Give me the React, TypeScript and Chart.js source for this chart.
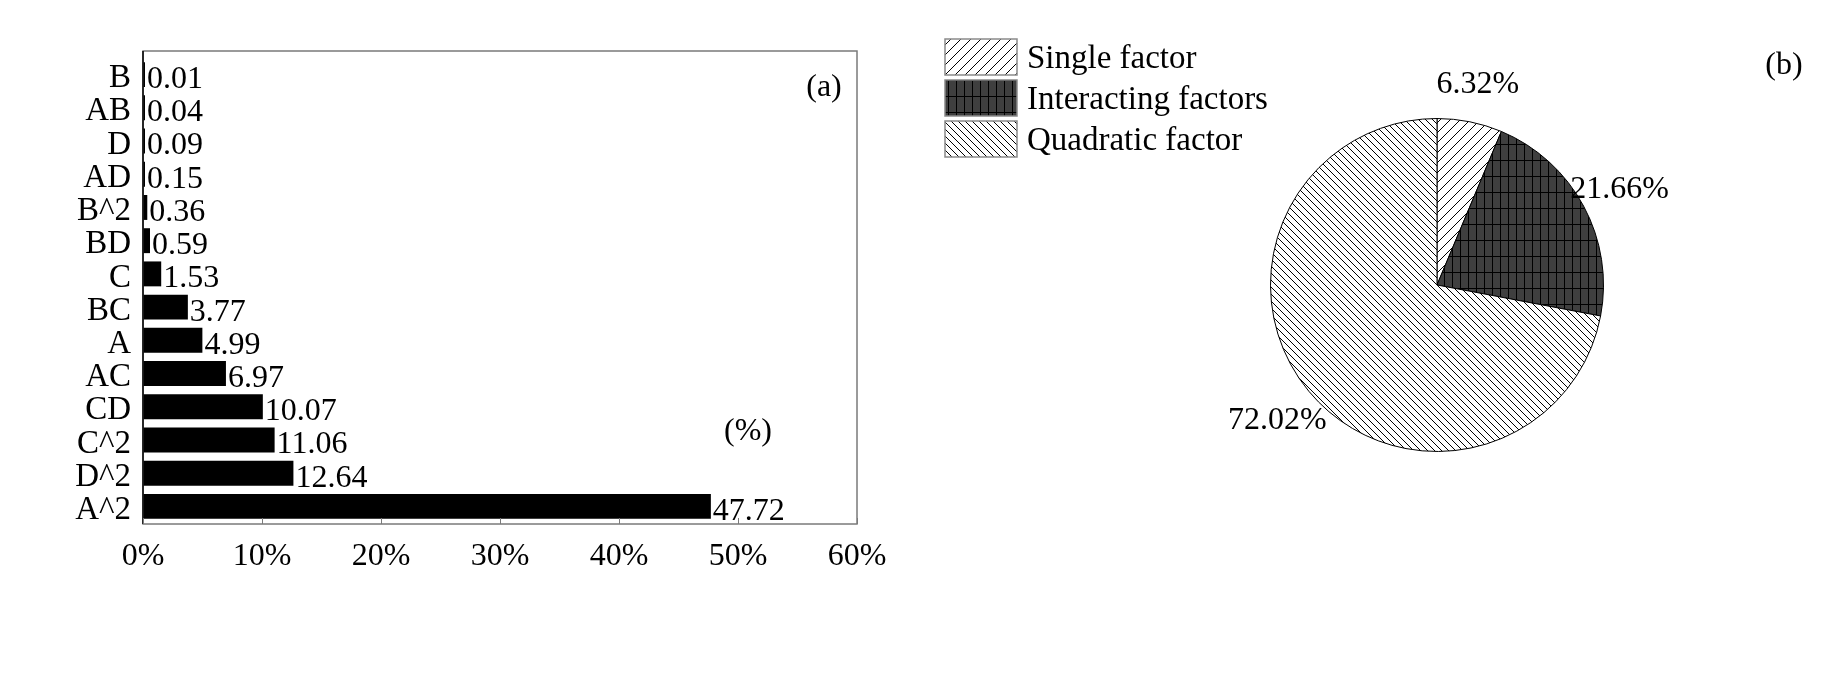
import React, { useEffect, useRef } from 'react';
import { Chart, registerables } from 'chart.js';

Chart.register(...registerables);

// ---------- data ----------
const barLabels = ['B', 'AB', 'D', 'AD', 'B^2', 'BD', 'C', 'BC', 'A', 'AC', 'CD', 'C^2', 'D^2', 'A^2'];
const barValues = [0.01, 0.04, 0.09, 0.15, 0.36, 0.59, 1.53, 3.77, 4.99, 6.97, 10.07, 11.06, 12.64, 47.72];
const xTickValues = [0, 10, 20, 30, 40, 50, 60];

const pieLabels = ['Single factor', 'Interacting factors', 'Quadratic factor'];
const pieValues = [6.32, 21.66, 72.02];
const pieValueLabels = ['6.32%', '21.66%', '72.02%'];

const FONT = '"Liberation Serif", "Times New Roman", serif';
const FS = 32;

// ---------- patterns ----------
function makePattern(kind: string): CanvasPattern | string {
  const c = document.createElement('canvas');
  const ctx = c.getContext('2d')!;
  if (kind === 'fwd') {
    const s = 10;
    c.width = s; c.height = s;
    ctx.fillStyle = '#fff'; ctx.fillRect(0, 0, s, s);
    ctx.strokeStyle = '#000'; ctx.lineWidth = 1;
    ctx.beginPath();
    ctx.moveTo(-1, s + 1); ctx.lineTo(s + 1, -1);
    ctx.moveTo(-1, 1); ctx.lineTo(1, -1);
    ctx.moveTo(s - 1, s + 1); ctx.lineTo(s + 1, s - 1);
    ctx.stroke();
  } else if (kind === 'back') {
    const s = 7;
    c.width = s; c.height = s;
    ctx.fillStyle = '#fff'; ctx.fillRect(0, 0, s, s);
    ctx.strokeStyle = '#000'; ctx.lineWidth = 1;
    ctx.beginPath();
    ctx.moveTo(-1, -1); ctx.lineTo(s + 1, s + 1);
    ctx.moveTo(s - 1, -1); ctx.lineTo(s + 1, 1);
    ctx.moveTo(-1, s - 1); ctx.lineTo(1, s + 1);
    ctx.stroke();
  } else {
    c.width = 8; c.height = 16;
    ctx.fillStyle = '#3f3f3f'; ctx.fillRect(0, 0, 8, 16);
    ctx.fillStyle = '#000';
    ctx.fillRect(0, 0, 1, 16);
    ctx.fillRect(0, 0, 8, 1);
  }
  return ctx.createPattern(c, 'repeat')!;
}

// ---------- bar chart plugins ----------
const barExtras = {
  id: 'barExtras',
  afterDatasetsDraw(chart: any) {
    const ctx = chart.ctx;
    const meta = chart.getDatasetMeta(0);
    ctx.save();
    ctx.font = `${FS}px ${FONT}`;
    ctx.fillStyle = '#000';
    ctx.textAlign = 'left';
    ctx.textBaseline = 'middle';
    meta.data.forEach((el: any, i: number) => {
      ctx.fillText(barValues[i].toFixed(2), el.x + 2, el.y + 5);
    });
    ctx.restore();
  },
  afterDraw(chart: any) {
    const ctx = chart.ctx;
    const a = chart.chartArea;
    const xs = chart.scales.x;
    const top = a.top - 7;
    const bottom = a.bottom + 1;
    ctx.save();
    // frame
    ctx.strokeStyle = '#7a7a7a';
    ctx.lineWidth = 1.5;
    ctx.strokeRect(a.left, top, a.right - a.left, bottom - top);
    ctx.strokeStyle = '#000';
    ctx.beginPath();
    ctx.moveTo(a.left, top);
    ctx.lineTo(a.left, bottom);
    ctx.stroke();
    // inner ticks
    ctx.strokeStyle = '#7a7a7a';
    ctx.lineWidth = 1;
    xTickValues.forEach((v) => {
      const px = Math.round(xs.getPixelForValue(v)) + 0.5;
      ctx.beginPath();
      ctx.moveTo(px, bottom);
      ctx.lineTo(px, bottom - 6);
      ctx.stroke();
    });
    // annotations
    ctx.font = `${FS}px ${FONT}`;
    ctx.fillStyle = '#000';
    ctx.textAlign = 'center';
    ctx.textBaseline = 'middle';
    ctx.fillText('(a)', a.right - 33, top + 37);
    ctx.fillText('(%)', a.right - 109, bottom - 92);
    ctx.restore();
  },
};

// ---------- pie chart plugins ----------
const pieExtras = {
  id: 'pieExtras',
  afterDraw(chart: any) {
    const ctx = chart.ctx;
    const meta = chart.getDatasetMeta(0);
    const patterns = chart.data.datasets[0].backgroundColor;
    ctx.save();
    ctx.font = `${FS}px ${FONT}`;
    ctx.fillStyle = '#000';
    ctx.textBaseline = 'middle';
    // value labels
    ctx.textAlign = 'center';
    meta.data.forEach((arc: any, i: number) => {
      const mid = (arc.startAngle + arc.endAngle) / 2;
      const rr = arc.outerRadius * 1.245;
      ctx.fillText(pieValueLabels[i], arc.x + Math.cos(mid) * rr, arc.y + Math.sin(mid) * rr + 3);
    });
    // legend
    ctx.font = `33px ${FONT}`;
    pieLabels.forEach((lab, i) => {
      const bx = 45;
      const by = 39 + 41 * i;
      ctx.fillStyle = patterns[i];
      ctx.fillRect(bx, by, 72, 36);
      ctx.strokeStyle = '#8a8a8a';
      ctx.lineWidth = 1.5;
      ctx.strokeRect(bx, by, 72, 36);
      ctx.fillStyle = '#000';
      ctx.textAlign = 'left';
      ctx.fillText(lab, 127, by + 20);
    });
    // panel tag
    ctx.font = `${FS}px ${FONT}`;
    ctx.textAlign = 'center';
    ctx.fillText('(b)', 884, 66);
    ctx.restore();
  },
};

export default function App() {
  const barRef = useRef<HTMLCanvasElement>(null);
  const pieRef = useRef<HTMLCanvasElement>(null);

  useEffect(() => {
    Chart.defaults.color = '#000';
    Chart.defaults.font.family = FONT;

    const bar = new Chart(barRef.current!, {
      type: 'bar',
      data: {
        labels: barLabels,
        datasets: [
          {
            data: barValues,
            backgroundColor: '#000',
            borderWidth: 0,
            barPercentage: 0.75,
            categoryPercentage: 1,
            minBarLength: 2,
          },
        ],
      },
      options: {
        indexAxis: 'y',
        responsive: false,
        animation: false,
        layout: { padding: { left: 0, top: 58, right: 43, bottom: 0 } },
        plugins: { legend: { display: false }, tooltip: { enabled: false } },
        scales: {
          x: {
            min: 0,
            max: 60,
            grid: { display: false },
            border: { display: false },
            afterBuildTicks: (s: any) => {
              s.ticks = xTickValues.map((v) => ({ value: v }));
            },
            afterFit: (s: any) => {
              s.height = 150;
            },
            ticks: {
              padding: 6,
              maxRotation: 0,
              font: { size: FS, family: FONT },
              color: '#000',
              callback: (v: any) => `${v}%`,
            },
          },
          y: {
            grid: { display: false },
            border: { display: false },
            afterFit: (s: any) => {
              s.width = 143;
            },
            ticks: {
              padding: 4,
              labelOffset: 4,
              autoSkip: false,
              font: { size: 33, family: FONT },
              color: '#000',
            },
          },
        },
      },
      plugins: [barExtras],
    });

    const pie = new Chart(pieRef.current!, {
      type: 'pie',
      data: {
        labels: pieLabels,
        datasets: [
          {
            data: pieValues,
            backgroundColor: [makePattern('fwd'), makePattern('grid'), makePattern('back')] as any,
            borderColor: '#000',
            borderWidth: 1,
          },
        ],
      },
      options: {
        responsive: false,
        animation: false,
        radius: 166.5,
        layout: { padding: { left: 367, right: 231, top: 115, bottom: 218 } },
        plugins: { legend: { display: false }, tooltip: { enabled: false } },
      } as any,
      plugins: [pieExtras],
    });

    return () => {
      bar.destroy();
      pie.destroy();
    };
  }, []);

  return (
    <div style={{ position: 'absolute', left: 0, top: 0, width: 1838, height: 673, background: '#fff' }}>
      <canvas ref={barRef} width={900} height={673} style={{ position: 'absolute', left: 0, top: 0 }} />
      <canvas ref={pieRef} width={938} height={673} style={{ position: 'absolute', left: 900, top: 0 }} />
    </div>
  );
}
